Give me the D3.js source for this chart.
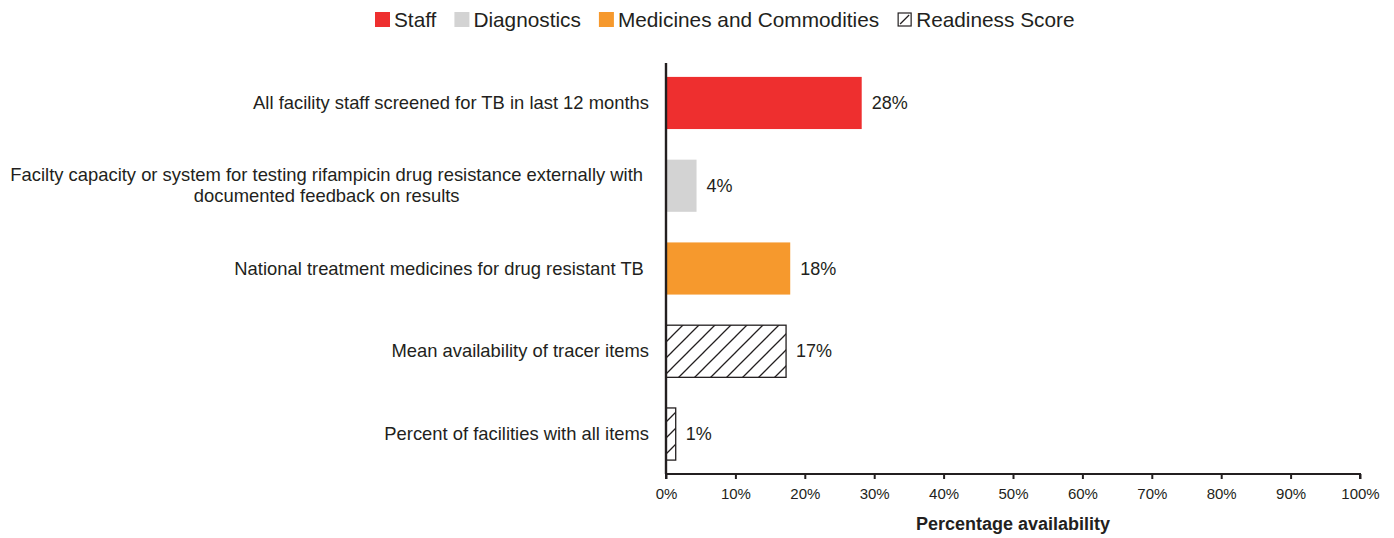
<!DOCTYPE html>
<html><head><meta charset="utf-8">
<script src="https://cdn.jsdelivr.net/npm/d3@7"></script>
<style>
body{margin:0;background:#fff;}
svg{font-family:"Liberation Sans",Arial,sans-serif;}
</style></head>
<body><svg id="chart" width="1394" height="538"></svg>
<script>
const categories = [
  ["All facility staff screened for TB in last 12 months"],
  ["Facilty capacity or system for testing rifampicin drug resistance externally with", "documented feedback on results"],
  ["National treatment medicines for drug resistant TB "],
  ["Mean availability of tracer items"],
  ["Percent of facilities with all items"]
];
const values = [28.2, 4.4, 17.9, 17.3, 1.4];
const valueLabels = ["28%", "4%", "18%", "17%", "1%"];
const groups = ["Staff", "Diagnostics", "Medicines", "Readiness", "Readiness"];
const legendLabels = ["Staff", "Diagnostics", "Medicines and Commodities", "Readiness Score"];
const legendKeys = ["Staff", "Diagnostics", "Medicines", "Readiness"];
const xTicks = [0,10,20,30,40,50,60,70,80,90,100];
const xTitle = "Percentage availability";

const colors = {Staff:"#ee2f2f", Diagnostics:"#d3d3d3", Medicines:"#f6992d", Readiness:"url(#hatch)"};
const ink = "#231f20";

const svg = d3.select("#chart");
const defs = svg.append("defs");
const pat = defs.append("pattern").attr("id","hatch").attr("patternUnits","userSpaceOnUse")
  .attr("width",16).attr("height",16);
pat.append("rect").attr("width",16).attr("height",16).attr("fill","#fff");
pat.append("path").attr("d","M-4,4 L4,-4 M0,16 L16,0 M12,20 L20,12").attr("stroke",ink).attr("stroke-width",1.3);

const x0 = 666, x1 = 1360, yTop = 63, yBot = 474;
const x = d3.scaleLinear().domain([0,100]).range([x0,x1]);
const y = d3.scaleBand().domain(d3.range(categories.length)).range([yTop,yBot]).paddingInner(0.37).paddingOuter(0.168);

// bars
svg.append("g").selectAll("rect").data(values).join("rect")
  .attr("x", x(0)).attr("y",(d,i)=>y(i)).attr("height",y.bandwidth())
  .attr("width", d=>x(d)-x(0))
  .attr("fill",(d,i)=>colors[groups[i]])
  .attr("stroke",(d,i)=>groups[i]==="Readiness"?ink:"none")
  .attr("stroke-width",1.3);

// value labels
svg.append("g").selectAll("text").data(values).join("text")
  .attr("x", d=>x(d)+10).attr("y",(d,i)=>y(i)+y.bandwidth()/2+6)
  .attr("font-size",18).attr("fill",ink)
  .text((d,i)=>valueLabels[i]);

// category labels
const catG = svg.append("g");
categories.forEach((lines,i)=>{
  const cy = y(i)+y.bandwidth()/2;
  const lh = 21;
  const t = catG.append("text").attr("font-size",18.4).attr("fill",ink).style("white-space","pre");
  const tspans = lines.map((l,k)=>t.append("tspan").attr("x",0).attr("y",cy + 6 + (k-(lines.length-1)/2)*lh).text(l));
  if(lines.length===1){
    t.attr("text-anchor","end"); tspans.forEach(s=>s.attr("x",649));
  } else {
    const w = Math.max(...tspans.map(s=>s.node().getComputedTextLength()));
    t.attr("text-anchor","middle"); tspans.forEach(s=>s.attr("x",643 - w/2));
  }
});

// x axis
const xAxis = svg.append("g").attr("transform",`translate(0,${yBot})`)
  .call(d3.axisBottom(x).tickValues(xTicks).tickFormat(d=>d+"%").tickSize(5).tickSizeOuter(5).tickPadding(9));
xAxis.select(".domain").attr("stroke",ink).attr("stroke-width",2).attr("d",`M${x0},5V0H${x1}V5`);
xAxis.selectAll(".tick line").attr("stroke",ink).attr("stroke-width",2);
xAxis.selectAll(".tick text").attr("font-size",15).attr("fill",ink).attr("font-family","Liberation Sans, Arial, sans-serif");

// y axis line
svg.append("line").attr("x1",x0).attr("x2",x0).attr("y1",yTop).attr("y2",yBot)
  .attr("stroke",ink).attr("stroke-width",2.4);

// x title
svg.append("text").attr("x",(x0+x1)/2).attr("y",530).attr("text-anchor","middle")
  .attr("font-size",18).attr("font-weight","bold").attr("fill",ink).text(xTitle);

// legend
const lg = svg.append("g");
let lx = 375;
legendKeys.forEach((k,i)=>{
  if(k==="Readiness"){
    lg.append("rect").attr("x",lx+1).attr("y",13).attr("width",13).attr("height",13)
      .attr("fill","#fff").attr("stroke",ink).attr("stroke-width",1.2);
    lg.append("line").attr("x1",lx+3).attr("y1",24).attr("x2",lx+12).attr("y2",15).attr("stroke",ink).attr("stroke-width",1.2);
  } else {
    lg.append("rect").attr("x",lx).attr("y",12).attr("width",15).attr("height",15).attr("fill",colors[k]);
  }
  const t = lg.append("text").attr("x",lx+19).attr("y",27).attr("font-size",20.8).attr("fill",ink).text(legendLabels[i]);
  lx += 19 + t.node().getComputedTextLength() + 18;
});
</script></body></html>
